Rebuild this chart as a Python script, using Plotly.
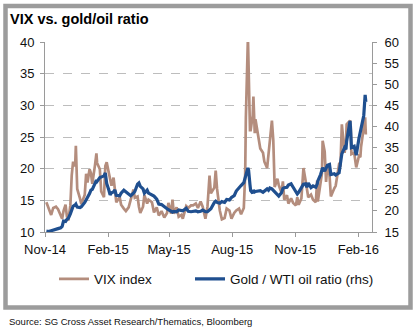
import plotly.graph_objects as go

# Daily observations (sampled) of the VIX and the gold / WTI crude price ratio
dates = [
    "2014-11-03", "2014-11-06", "2014-11-10", "2014-11-13", "2014-11-17", "2014-11-20",
    "2014-11-24", "2014-11-26", "2014-11-28", "2014-12-01", "2014-12-03", "2014-12-05",
    "2014-12-08", "2014-12-10", "2014-12-12", "2014-12-15", "2014-12-16", "2014-12-17",
    "2014-12-18", "2014-12-22", "2014-12-24", "2014-12-29", "2014-12-31", "2015-01-02",
    "2015-01-05", "2015-01-07", "2015-01-09", "2015-01-13", "2015-01-15", "2015-01-16",
    "2015-01-20", "2015-01-22", "2015-01-26", "2015-01-28", "2015-01-30", "2015-02-02",
    "2015-02-04", "2015-02-06", "2015-02-09", "2015-02-11", "2015-02-13", "2015-02-18",
    "2015-02-20", "2015-02-24", "2015-02-27", "2015-03-03", "2015-03-06", "2015-03-10",
    "2015-03-12", "2015-03-16", "2015-03-18", "2015-03-20", "2015-03-24", "2015-03-26",
    "2015-03-30", "2015-04-01", "2015-04-06", "2015-04-09", "2015-04-13", "2015-04-16",
    "2015-04-20", "2015-04-24", "2015-04-28", "2015-04-30", "2015-05-04", "2015-05-06",
    "2015-05-08", "2015-05-12", "2015-05-15", "2015-05-19", "2015-05-21", "2015-05-26",
    "2015-05-29", "2015-06-02", "2015-06-05", "2015-06-09", "2015-06-12", "2015-06-16",
    "2015-06-19", "2015-06-23", "2015-06-26", "2015-06-29", "2015-07-01", "2015-07-06",
    "2015-07-08", "2015-07-10", "2015-07-14", "2015-07-17", "2015-07-21", "2015-07-24",
    "2015-07-28", "2015-07-31", "2015-08-04", "2015-08-07", "2015-08-11", "2015-08-14",
    "2015-08-18", "2015-08-20", "2015-08-21", "2015-08-24", "2015-08-25", "2015-08-26",
    "2015-08-27", "2015-08-28", "2015-08-31", "2015-09-01", "2015-09-03", "2015-09-04",
    "2015-09-08", "2015-09-11", "2015-09-15", "2015-09-17", "2015-09-21", "2015-09-23",
    "2015-09-25", "2015-09-28", "2015-09-30", "2015-10-02", "2015-10-06", "2015-10-08",
    "2015-10-12", "2015-10-14", "2015-10-16", "2015-10-20", "2015-10-22", "2015-10-26",
    "2015-10-29", "2015-11-02", "2015-11-04", "2015-11-06", "2015-11-10", "2015-11-13",
    "2015-11-16", "2015-11-18", "2015-11-20", "2015-11-24", "2015-11-27", "2015-12-01",
    "2015-12-03", "2015-12-04", "2015-12-08", "2015-12-10", "2015-12-11", "2015-12-14",
    "2015-12-16", "2015-12-18", "2015-12-21", "2015-12-23", "2015-12-28", "2015-12-30",
    "2016-01-04", "2016-01-06", "2016-01-08", "2016-01-12", "2016-01-14", "2016-01-15",
    "2016-01-20", "2016-01-21", "2016-01-22", "2016-01-26", "2016-01-29", "2016-02-02",
    "2016-02-04", "2016-02-05", "2016-02-09", "2016-02-11", "2016-02-12",
]

vix = [
    14.7, 13.7, 12.7, 13.8, 14.0, 13.6,
    12.6, 12.1, 13.3, 14.3, 12.4, 11.8,
    14.2, 19.0, 21.1, 20.4, 23.6, 19.4,
    16.8, 15.3, 14.4, 15.9, 19.2, 17.8,
    19.9, 19.3, 17.6, 20.6, 22.4, 20.9,
    19.9, 16.4, 15.5, 20.4, 21.0, 19.4,
    18.3, 17.3, 18.6, 16.9, 14.7, 15.5,
    14.3, 13.7, 13.3, 13.9, 15.2, 16.7,
    15.4, 15.6, 14.0, 13.0, 14.0, 15.8,
    14.5, 15.1, 14.7, 13.1, 13.9, 12.6,
    13.3, 12.3, 13.0, 14.6, 12.9, 15.1,
    12.9, 13.9, 12.4, 12.7, 12.1, 14.1,
    13.8, 14.2, 14.2, 14.5, 13.8, 14.8,
    14.0, 12.1, 14.0, 18.9, 16.1, 17.0,
    19.7, 16.8, 13.4, 12.0, 12.2, 13.7,
    13.4, 12.1, 13.0, 13.4, 13.7, 12.8,
    13.8, 19.1, 28.0, 40.7, 36.0, 30.3,
    26.1, 26.1, 28.4, 31.4, 25.6, 27.8,
    24.9, 23.2, 22.5, 21.1, 20.1, 22.1,
    23.6, 27.6, 24.5, 17.1, 18.4, 17.4,
    16.2, 18.0, 15.1, 15.8, 14.5, 15.3,
    14.6, 14.2, 15.5, 14.3, 15.3, 20.1,
    18.2, 16.9, 15.5, 15.9, 15.1, 14.7,
    18.1, 14.8, 17.6, 19.3, 24.4, 22.7,
    17.9, 20.7, 19.0, 15.6, 16.9, 17.3,
    20.7, 20.6, 27.0, 22.5, 24.0, 27.0,
    27.6, 26.7, 22.3, 22.5, 20.2, 22.0,
    21.8, 23.4, 26.5, 28.1, 25.4,
]

gold_oil = [
    15.2, 15.1, 15.3, 15.4, 15.6, 15.8,
    16.0, 16.3, 17.6, 17.5, 18.0, 18.2,
    19.3, 20.2, 21.1, 21.4, 21.6, 21.2,
    20.9, 20.8, 21.0, 22.0, 22.5, 23.0,
    24.1, 24.9, 25.1, 26.5, 27.3, 27.0,
    27.9, 28.0, 28.3, 29.0, 26.5, 25.0,
    23.8, 24.3, 24.5, 25.0, 23.7, 23.6,
    24.2, 24.9, 24.5, 23.9, 23.6, 24.2,
    24.6, 26.3, 26.6, 25.8, 25.2, 24.2,
    24.9, 24.2, 23.8, 23.5, 22.8, 21.6,
    21.5, 20.9, 20.5, 20.3, 20.0, 19.7,
    19.9, 19.8, 20.2, 20.1, 20.0, 20.6,
    19.9, 19.8, 19.9, 20.0, 19.8, 19.9,
    20.2, 19.8, 19.8, 20.1, 20.5, 22.0,
    22.3, 22.0, 21.8, 22.2, 22.0, 22.7,
    22.6, 23.2, 23.6, 24.7, 25.6, 26.0,
    26.7, 27.8, 28.9, 30.2, 29.6, 28.5,
    26.2, 24.8, 24.2, 24.9, 24.5, 24.6,
    24.7, 24.8, 24.4, 24.6, 25.2, 24.9,
    25.4, 25.2, 24.9, 24.5, 24.0, 23.5,
    24.3, 25.3, 25.5, 25.6, 26.1, 26.4,
    25.6, 24.6, 24.0, 24.4, 25.4, 26.3,
    26.4, 25.6, 26.6, 25.5, 25.9, 25.6,
    26.3, 27.1, 28.6, 29.5, 30.2, 29.4,
    30.4, 30.8, 31.0, 28.6, 28.8, 28.5,
    29.0, 32.0, 33.5, 35.0, 34.6, 36.5,
    41.3, 38.5, 35.0, 35.3, 33.2, 37.2,
    38.5, 39.5, 42.6, 47.5, 45.8,
]

vix_ticks = [10, 15, 20, 25, 30, 35, 40]
ratio_ticks = [15, 20, 25, 30, 35, 40, 45, 50, 55, 60]

FONT = "Liberation Sans, Arial, sans-serif"
W, H = 417, 329
ML, MR, MT, MB = 45, 45, 42, 97
PW, PH = W - ML - MR, H - MT - MB


def px_x(x):
    return (x - ML) / PW


def px_y(y):
    return (H - MB - y) / PH


fig = go.Figure()
fig.add_trace(go.Scatter(
    x=dates, y=vix, name="VIX index", mode="lines",
    line=dict(color="#B48D7D", width=2.7), yaxis="y", legend="legend",
))
fig.add_trace(go.Scatter(
    x=dates, y=gold_oil, name="Gold / WTI oil ratio (rhs)", mode="lines",
    line=dict(color="#1F4F8F", width=3.2), yaxis="y2", legend="legend2",
))

legend_font = dict(family=FONT, size=13.5, color="#111111")

fig.update_layout(
    width=W, height=H, autosize=False,
    margin=dict(l=ML, r=MR, t=MT, b=MB),
    paper_bgcolor="white", plot_bgcolor="white",
    font=dict(family=FONT, size=13, color="#111111"),
    showlegend=True,
    legend=dict(
        orientation="h", x=px_x(54), xanchor="left", y=px_y(279), yanchor="middle",
        font=legend_font, bgcolor="rgba(0,0,0,0)",
    ),
    legend2=dict(
        orientation="h", x=px_x(190), xanchor="left", y=px_y(279), yanchor="middle",
        font=legend_font, bgcolor="rgba(0,0,0,0)",
    ),
    xaxis=dict(
        type="date", range=["2014-11-01", "2016-02-21"],
        tick0="2014-11-01", dtick="M3", tickformat="%b-%y",
        showgrid=False, showline=True, linecolor="#9A9A9A", linewidth=1,
        ticks="outside", ticklen=4, tickcolor="#9A9A9A",
        tickfont=dict(family=FONT, size=13, color="#111111"),
        ticklabelstandoff=1, zeroline=False,
    ),
    yaxis=dict(
        range=[10, 40], tickvals=vix_ticks, showgrid=True,
        gridcolor="#BDBDBD", griddash="dash", gridwidth=1,
        showline=True, linecolor="#9A9A9A", linewidth=1,
        ticks="outside", ticklen=4, tickcolor="#9A9A9A",
        tickfont=dict(family=FONT, size=13, color="#111111"),
        ticklabelstandoff=3, zeroline=False,
    ),
    yaxis2=dict(
        range=[15, 60], tickvals=ratio_ticks, overlaying="y", side="right",
        showgrid=False, showline=True, linecolor="#9A9A9A", linewidth=1,
        ticks="outside", ticklen=4, tickcolor="#9A9A9A",
        tickfont=dict(family=FONT, size=13, color="#111111"),
        ticklabelstandoff=5, zeroline=False,
    ),
)

# grey frame around the chart panel
fig.add_shape(
    type="rect", xref="paper", yref="paper",
    x0=px_x(5.5), x1=px_x(410.5), y0=px_y(307.5), y1=px_y(6),
    line=dict(color="#9C9C9C", width=4.5), fillcolor="rgba(0,0,0,0)", layer="below",
)

# title and source line
fig.add_annotation(
    text="<b>VIX vs. gold/oil ratio</b>", xref="paper", yref="paper",
    x=px_x(8), y=px_y(19), xanchor="left", yanchor="middle", showarrow=False,
    font=dict(family=FONT, size=14.5, color="#000000"),
)
fig.add_annotation(
    text="Source: SG Cross Asset Research/Thematics, Bloomberg", xref="paper", yref="paper",
    x=px_x(7), y=px_y(321), xanchor="left", yanchor="middle", showarrow=False,
    font=dict(family=FONT, size=9.5, color="#111111"),
)

fig.write_html("out.html")
